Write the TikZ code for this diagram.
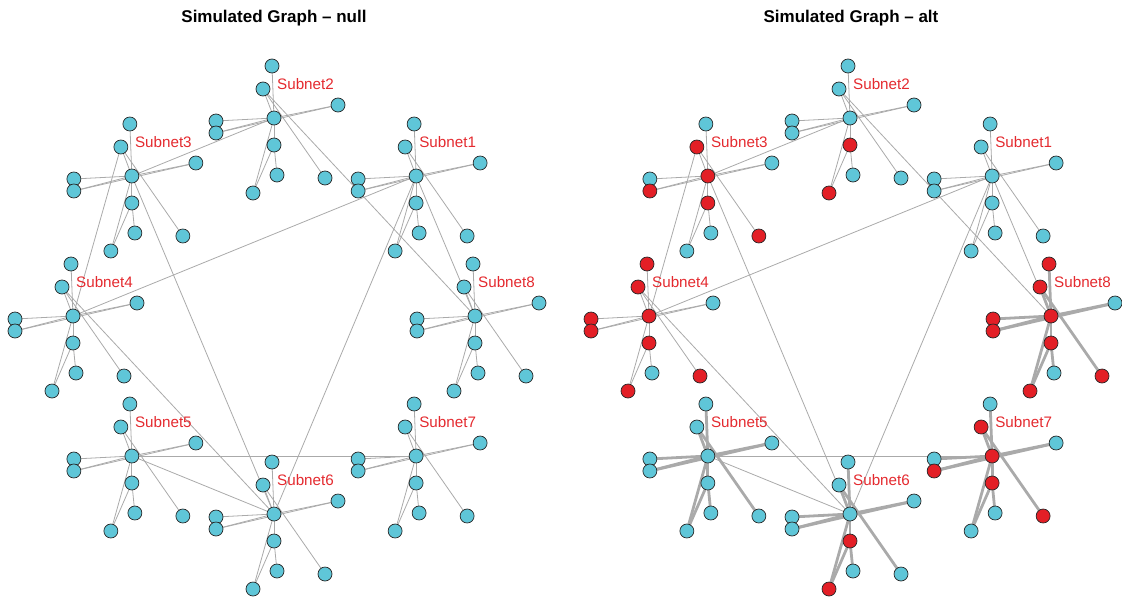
\documentclass[tikz,border=0pt]{standalone}
\usepackage{fontspec}
\setmainfont{Liberation Sans}
\usetikzlibrary{backgrounds}

\definecolor{nodeblue}{HTML}{5FC6D8}
\definecolor{nodered}{HTML}{E31F26}
\definecolor{labelred}{HTML}{E42A2F}
\definecolor{edgegrey}{HTML}{AAAAAA}

\tikzset{
  vertex/.style={circle, draw=black!85, line width=0.7pt, minimum size=14pt, inner sep=0pt},
  edge/.style={edgegrey, line cap=round},
  sublabel/.style={text=labelred, anchor=west, inner sep=0pt, font=\fontsize{15.2}{16}\selectfont},
  graphtitle/.style={font=\bfseries\fontsize{17}{18}\selectfont, inner sep=0pt},
}

% red vertices of the alt graph
\newcommand{\markred}[1]{\expandafter\gdef\csname isred#1\endcsname{}}
\markred{A2b}\markred{A2bl}
\markred{A3hub}\markred{A3ul}\markred{A3l2}\markred{A3b}\markred{A3br}
\markred{A4t}\markred{A4ul}\markred{A4hub}\markred{A4l1}\markred{A4l2}\markred{A4b}\markred{A4bl}\markred{A4br}
\markred{A6b}\markred{A6bl}
\markred{A7ul}\markred{A7hub}\markred{A7l2}\markred{A7b}\markred{A7br}
\markred{A8t}\markred{A8ul}\markred{A8hub}\markred{A8l1}\markred{A8l2}\markred{A8b}\markred{A8bl}\markred{A8br}

\begin{document}
\begin{tikzpicture}[x=1pt, y=-1pt]
    \useasboundingbox (0,0) rectangle (1122,600);

    \node[graphtitle] (titlenull) at (274,18) {Simulated Graph -- null};
    \node[graphtitle] (titlealt) at (851,18) {Simulated Graph -- alt};

    % vertices of both graphs, eight subnets each
    \foreach \g/\cx in {N/274, A/850} {
        \foreach \s/\ang in {1/45, 2/90, 3/135, 4/180, 5/225, 6/270, 7/315, 8/0} {
            \pgfmathsetmacro{\hx}{\cx+201*cos(\ang)}
            \pgfmathsetmacro{\hy}{316-198*sin(\ang)}
            \foreach \n/\dx/\dy in {hub/0/0, t/-2/-52, ul/-11/-29, r/64/-13, l1/-58/3, l2/-58/15,
                                    b/0/27, bb/3/57, bl/-21/75, br/51/60} {
                \ifcsname isred\g\s\n\endcsname \def\vcol{nodered}\else \def\vcol{nodeblue}\fi
                \node[vertex, fill=\vcol] (\g\s\n) at (\hx+\dx, \hy+\dy) {};
            }
            \node[sublabel] (\g\s lab) at (\hx+3, \hy-34) {Subnet\s};
        }
    }

    \begin{pgfonlayer}{background}
        % edges inside a subnet
        \foreach \g/\s/\w in {N/1/0.8, N/2/0.8, N/3/0.8, N/4/0.8, N/5/0.8, N/6/0.8, N/7/0.8, N/8/0.8,
                              A/1/0.8, A/2/0.8, A/3/0.8, A/4/0.8, A/5/2.8, A/6/2.8, A/7/2.8, A/8/2.8} {
            \foreach \a/\b in {hub/t, hub/ul, hub/r, hub/l1, hub/l2, l2/r, hub/b, b/bb, hub/bl, b/bl, ul/br}
                \draw[edge, line width=\w pt] (\g\s\a) -- (\g\s\b);
        }
        % edges between subnets
        \foreach \g in {N, A} {
            \foreach \a/\b in {3hub/2hub, 4hub/1hub, 2ul/8hub, 3hub/6hub, 1hub/6hub, 4ul/6hub,
                               5hub/7hub, 5hub/6hub, 1hub/8hub, 3ul/4hub}
                \draw[edge, line width=0.8pt] (\g\a) -- (\g\b);
        }
    \end{pgfonlayer}
\end{tikzpicture}
\end{document}
